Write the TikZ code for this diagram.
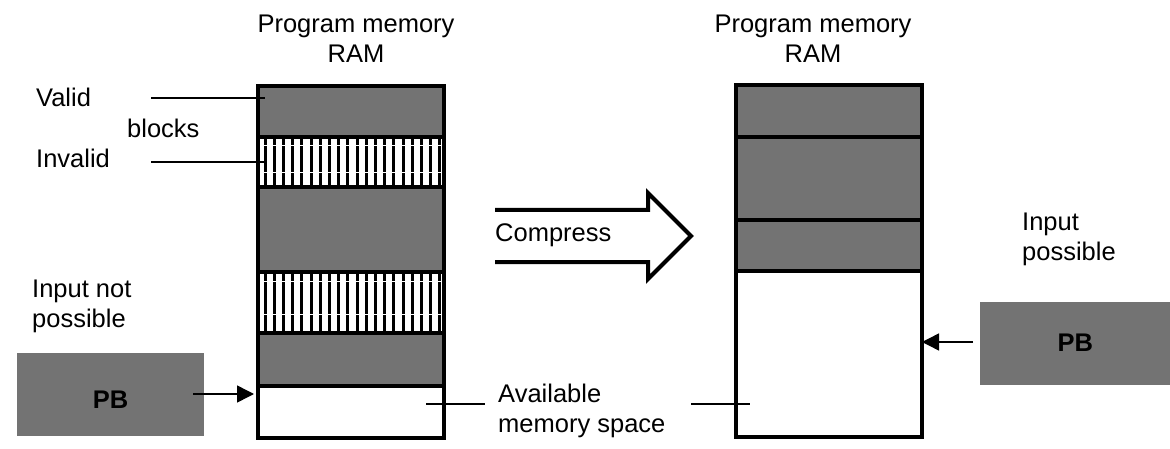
\documentclass[tikz,border=0pt]{standalone}
\usepackage{fontspec}
\setmainfont{Liberation Sans}
\usetikzlibrary{arrows.meta,calc}
\begin{document}
\begin{tikzpicture}[x=1pt,y=-1pt,
  txt/.style={font=\fontsize{25.5}{30}\selectfont, inner sep=0pt, align=left, anchor=base west},
  ttl/.style={font=\fontsize{25.5}{30}\selectfont, inner sep=0pt, align=center, anchor=base},
  blk/.style={draw, line width=4pt, inner sep=0pt, anchor=north west, minimum width=186pt},
  validblk/.style={blk, fill=black!55},
  freeblk/.style={blk, fill=white},
  invalidblk/.style={blk, fill=white, path picture={
      \foreach \i in {0,...,19}
        \draw[line width=3pt] ([xshift=7pt+\i*9.2pt]path picture bounding box.north west) -- ([xshift=7pt+\i*9.2pt]path picture bounding box.south west);
      \draw[white, line width=0.8pt] ([yshift=-0.16*(#1)]path picture bounding box.north west) -- ([yshift=-0.16*(#1)]path picture bounding box.north east);
      \draw[white, line width=0.8pt] ([yshift=-0.7*(#1)]path picture bounding box.north west) -- ([yshift=-0.7*(#1)]path picture bounding box.north east);
    }},
  pbbox/.style={fill=black!55, inner sep=0pt, anchor=north west},
  pbtxt/.style={font=\fontsize{25.5}{30}\selectfont\bfseries, inner sep=0pt},
  lbl/.style={line width=1.5pt},
  ptr/.style={line width=1.5pt, -{Triangle[length=17pt, width=17pt]}},
  bigarrow/.style={line width=4pt, line join=miter, miter limit=10}
]
\useasboundingbox (0,0) rectangle (1170,449);

% ---------- left memory column ----------
\node[validblk, minimum height=51pt] (L1) at (256,84) {};
\node[invalidblk=50pt, minimum height=50pt] (L2) at (256,135) {};
\node[validblk, minimum height=84.5pt] (L3) at (256,185) {};
\node[invalidblk=61.5pt, minimum height=61.5pt] (L4) at (256,269.5) {};
\node[validblk, minimum height=53pt] (L5) at (256,331) {};
\node[freeblk, minimum height=52pt] (L6) at (256,384) {};

% ---------- right memory column ----------
\node[validblk, minimum height=52pt] (R1) at (734,83) {};
\node[validblk, minimum height=83pt] (R2) at (734,135) {};
\node[validblk, minimum height=51pt] (R3) at (734,218) {};
\node[freeblk, minimum height=166pt] (R4) at (734,269) {};

% ---------- titles (anchor = baseline of the last line) ----------
\node[ttl] (tl) at (356,63) {Program memory\\RAM};
\node[ttl] (tr) at (813,63) {Program memory\\RAM};

% ---------- left labels ----------
\node[txt] (valid) at (36,107) {Valid};
\node[txt] (blocks) at (127,138) {blocks};
\node[txt] (invalid) at (36,168) {Invalid};
\node[txt] (notposs) at (32,327) {Input not\\possible};

\coordinate (va) at (151,98);
\coordinate (vb) at (265,98);
\coordinate (ia) at (151,162);
\coordinate (ib) at (265,162);
\draw[lbl] (va) -- (vb);
\draw[lbl] (ia) -- (ib);

% ---------- left PB ----------
\node[pbbox, minimum width=187pt, minimum height=83pt] (pbL) at (17,353) {};
\node[pbtxt] (pbLt) at ($(pbL.center)+(0,5)$) {PB};
\coordinate (pla) at (193,394);
\coordinate (plb) at (254,394);
\draw[ptr] (pla) -- (plb);

% ---------- compress arrow ----------
\coordinate (c1) at (495,210);
\coordinate (c2) at (648,210);
\coordinate (c3) at (648,193);
\coordinate (c4) at (691,236);
\coordinate (c5) at (648,279);
\coordinate (c6) at (648,262);
\coordinate (c7) at (495,262);
\draw[bigarrow] (c1) -- (c2) -- (c3) -- (c4) -- (c5) -- (c6) -- (c7);
\node[txt] (compress) at (495,241) {Compress};

% ---------- available memory ----------
\node[txt] (avail) at (498,432) {Available\\memory space};
\coordinate (aa) at (426,404);
\coordinate (ab) at (485,404);
\coordinate (ac) at (691,404);
\coordinate (ad) at (750,404);
\draw[lbl] (aa) -- (ab);
\draw[lbl] (ac) -- (ad);

% ---------- right side ----------
\node[txt] (poss) at (1022,260) {Input\\possible};
\node[pbbox, minimum width=190pt, minimum height=83pt] (pbR) at (980,302) {};
\node[pbtxt] (pbRt) at ($(pbR.center)+(0,-1)$) {PB};
\coordinate (pra) at (973,342);
\coordinate (prb) at (922,342);
\draw[ptr] (pra) -- (prb);
\end{tikzpicture}
\end{document}
